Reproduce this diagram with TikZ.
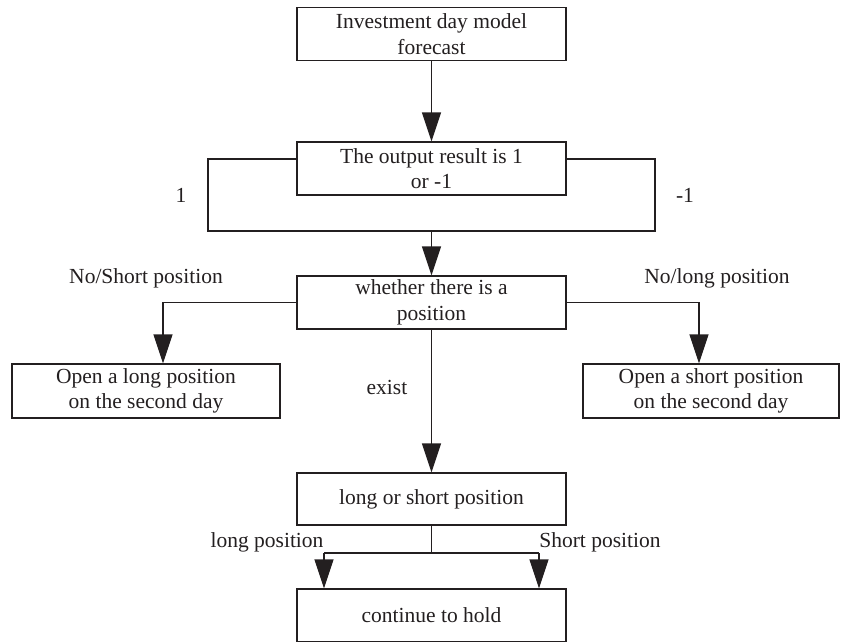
\documentclass[tikz,border=0pt]{standalone}
\usepackage{fontspec}
\setmainfont{Liberation Serif}
\usetikzlibrary{arrows.meta}
\definecolor{ink}{HTML}{231F20}
\begin{document}
\begin{tikzpicture}[x=1pt,y=-1pt,
  box/.style={draw=ink, line width=1.1pt, minimum width=269pt, minimum height=53pt,
    inner sep=0pt, align=center, text=ink, font=\fontsize{21.5}{25.5}\selectfont},
  lbl/.style={text=ink, inner sep=0pt, font=\fontsize{21.5}{25.5}\selectfont},
  conn/.style={draw=ink, line width=1.1pt},
  arr/.style={conn, -{Triangle[length=29pt,width=19pt]}}
]
\useasboundingbox (0,0) rectangle (841,642);

\node[box] (top) at (431.5,34) {Investment day model\\forecast};
\node[box] (out) at (431.5,168.5) {The output result is 1\\or -1};
\node[box] (pos) at (431.5,302.5) {whether there is a\\position};
\node[box, minimum width=268pt, minimum height=54pt] (lng) at (146,391) {Open a long position\\on the second day};
\node[box, minimum width=256pt, minimum height=54pt] (sht) at (711,391) {Open a short position\\on the second day};
\node[box, minimum height=52pt] (ls) at (431.5,499) {long or short position};
\node[box] (hold) at (431.5,615.5) {continue to hold};

% top -> output
\draw[arr] (top.south) -- (out.north);

% loop around output box
\coordinate (lpL) at (208,231);
\coordinate (lpR) at (655,231);
\coordinate (lpM) at (431.5,231);
\draw[conn] ([yshift=9.5pt]out.west) -| (lpL) -- (lpR) |- ([yshift=9.5pt]out.east);
\draw[arr] (lpM) -- (pos.north);

% branches from position box
\draw[arr] (pos.west) -| ([xshift=17pt]lng.north);
\draw[arr] (pos.east) -| ([xshift=-12pt]sht.north);
\draw[arr] (pos.south) -- (ls.north);

% split to hold
\coordinate (split) at (431.5,553);
\coordinate (sL) at (324,553);
\coordinate (sR) at (539,553);
\draw[conn] (ls.south) -- (split);
\draw[conn] (sL) -- (sR);
\draw[arr] (sL) -- ([xshift=-107.5pt]hold.north);
\draw[arr] (sR) -- ([xshift=107.5pt]hold.north);

% labels
\node[lbl] (t1) at (181,195) {1};
\node[lbl] (tm1) at (685,195) {-1};
\node[lbl] (tns) at (146,278) {No/Short position};
\node[lbl] (tnl) at (717,278) {No/long position};
\node[lbl] (tex) at (387,387) {exist};
\node[lbl] (tlp) at (267,542) {long position};
\node[lbl] (tsp) at (600,542) {Short position};
\end{tikzpicture}
\end{document}
